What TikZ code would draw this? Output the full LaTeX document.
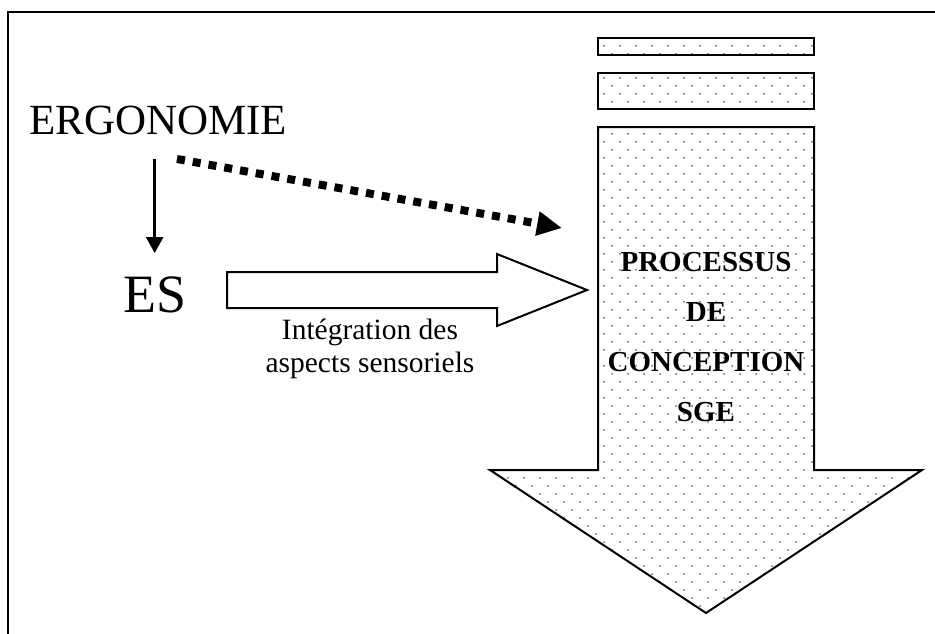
\documentclass[tikz,border=0pt]{standalone}
\usepackage{fontspec}
\setmainfont{Liberation Serif}
\usetikzlibrary{arrows.meta,patterns}
\pgfdeclarepatternformonly{sdots}{\pgfqpoint{-1pt}{-1pt}}{\pgfqpoint{17pt}{17pt}}{\pgfqpoint{16pt}{16pt}}{%
  \pgfpathcircle{\pgfqpoint{4pt}{4pt}}{1pt}%
  \pgfpathcircle{\pgfqpoint{12pt}{12pt}}{1pt}%
  \pgfusepath{fill}}
\tikzset{
  dotbox/.style={draw, line width=2pt, pattern=sdots, pattern color=black!60},
  outline/.style={draw, line width=2pt, fill=white},
}
\begin{document}
\begin{tikzpicture}[x=1pt,y=-1pt,line join=miter]
\useasboundingbox (0,0) rectangle (935,634);
% frame
\draw[line width=2pt] (8,634) -- (8,12) -- (935,12);
% stacked bars
\node[dotbox, minimum width=216pt, minimum height=17pt, inner sep=0pt] (bar1) at (706,46.5) {};
\node[dotbox, minimum width=216pt, minimum height=36pt, inner sep=0pt] (bar2) at (706,91) {};
% big downward arrow
\path[dotbox] (598,127) -- (814,127) -- (814,470) -- (922,470) -- (706,613) -- (490,470) -- (598,470) -- cycle;
\coordinate (procin) at (562,228);
\node[font=\bfseries\fontsize{29}{50.3}\selectfont, align=center, inner sep=0pt] (proc) at (706,337) {PROCESSUS\\DE\\CONCEPTION\\SGE};
% texts
\node[font=\fontsize{43}{50}\selectfont, anchor=base west, inner sep=0pt] (ergo) at (29,135) {ERGONOMIE};
\node[font=\fontsize{54}{60}\selectfont, anchor=base west, inner sep=0pt] (es) at (123,312) {ES};
\coordinate (dstart) at (177,159);
% arrows
\draw[line width=2.7pt, -{Triangle[length=16pt,width=17pt]}, shorten <=23pt, shorten >=23pt]
  (ergo.south -| es.north) -- (es.north);
\draw[line width=8pt, dash pattern=on 8pt off 8pt, -{Triangle[length=25pt,width=23pt]}]
  (dstart) -- (procin);
% horizontal block arrow
\path[outline] (227,272) -- (497,272) -- (497,254) -- (587,290) -- (497,326) -- (497,308) -- (227,308) -- cycle;
\node[font=\fontsize{29.5}{33}\selectfont, align=center, inner sep=0pt] (lbl) at (370,349) {Intégration des\\aspects sensoriels};
\end{tikzpicture}
\end{document}
